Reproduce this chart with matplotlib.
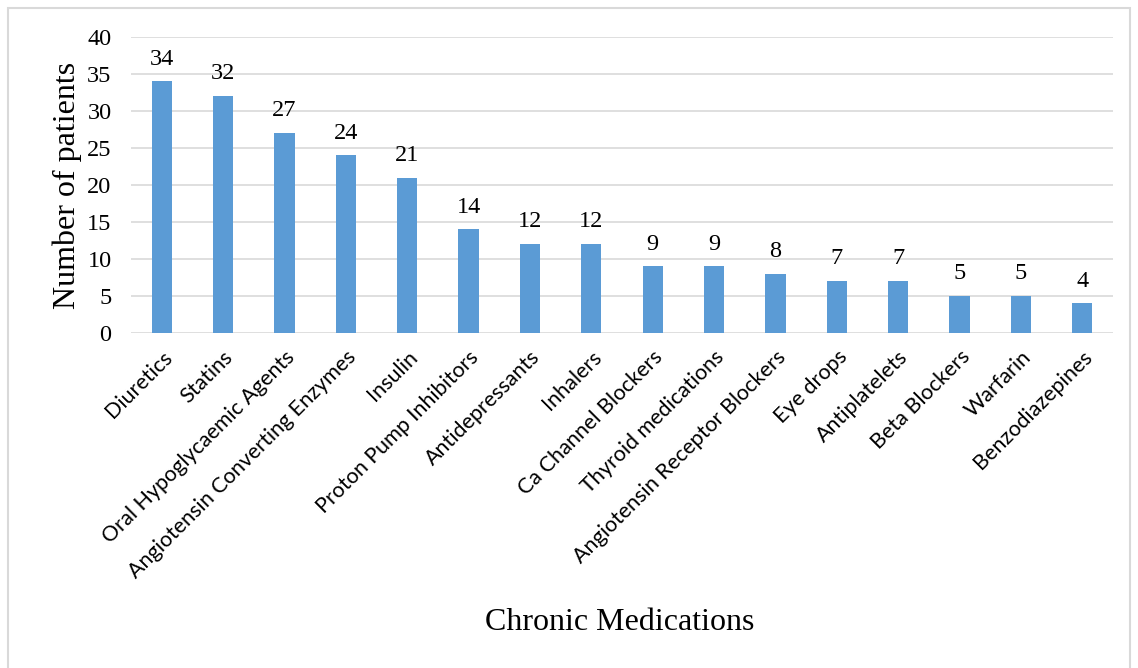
import matplotlib.pyplot as plt
import matplotlib.patches as mpatches

medications = ["Diuretics", "Statins", "Oral Hypoglycaemic Agents",
               "Angiotensin Converting Enzymes", "Insulin",
               "Proton Pump Inhibitors", "Antidepressants", "Inhalers",
               "Ca Channel Blockers", "Thyroid medications",
               "Angiotensin Receptor Blockers", "Eye drops", "Antiplatelets",
               "Beta Blockers", "Warfarin", "Benzodiazepines"]
patients = [34, 32, 27, 24, 21, 14, 12, 12, 9, 9, 8, 7, 7, 5, 5, 4]
y_ticks = [0, 5, 10, 15, 20, 25, 30, 35, 40]

serif = "Liberation Serif"
sans = "Lato"

fig = plt.figure(figsize=(11.38, 6.68), dpi=100)
ax = fig.add_axes([131 / 1138, 1 - 333 / 668, 982 / 1138, 296 / 668])

x = range(len(medications))
bars = ax.bar(x, patients, width=0.33, color="#5B9BD5", zorder=3)
for b, v in zip(bars, patients):
    ax.text(b.get_x() + b.get_width() / 2, v + 1.6, str(v), ha="center",
            va="bottom", fontsize=17.5, family=serif)

ax.set_xlim(-0.5, len(medications) - 0.5)
ax.set_ylim(0, 40)
ax.set_yticks(y_ticks)
ax.set_yticklabels([str(t) for t in y_ticks], fontsize=17.5, family=serif)
ax.set_xticks(list(x))
ax.set_xticklabels(medications, rotation=45, ha="right",
                   rotation_mode="anchor", fontsize=15.5, family=sans)
ax.tick_params(length=0, pad=10)
ax.tick_params(axis="y", pad=14)
ax.grid(axis="y", color="#d9d9d9", linewidth=1.2, zorder=0)
for s in ax.spines.values():
    s.set_visible(False)

ax.set_ylabel("Number of patients", fontsize=23, family=serif, labelpad=4)
fig.text(620 / 1138, 1 - 622 / 668, "Chronic Medications", ha="center",
         va="center", fontsize=23, family=serif)

# light chart-area border
fig.patches.append(mpatches.Rectangle((8 / 1138, -0.05), 1122 / 1138, 1.05 - 8 / 668,
                                      transform=fig.transFigure, fill=False,
                                      edgecolor="#d9d9d9", linewidth=1.5))

fig.savefig("out.png", dpi=100)
